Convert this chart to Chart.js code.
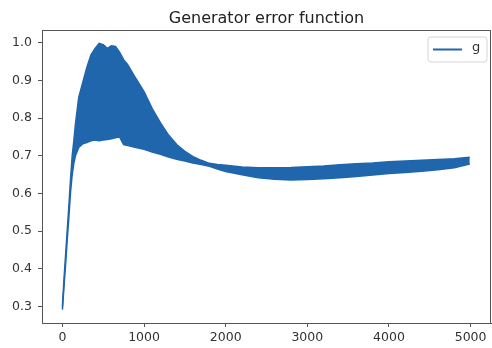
<!DOCTYPE html>
<html>
<head>
<meta charset="utf-8">
<script src="https://cdn.jsdelivr.net/npm/chart.js@4"></script>
<style>
  html, body { margin: 0; padding: 0; background: #fff; }
  #wrap { width: 492px; height: 348px; position: relative; }
</style>
</head>
<body>
<div id="wrap"><canvas id="c" width="492" height="348"></canvas></div>
<script>
// Iteration (x) positions at which the band edges were read
const iterations = [0, 20, 40, 60, 80, 100, 120, 140, 160, 200, 250, 300, 350, 400, 450, 500, 550, 600, 650, 700, 750, 800, 900, 1000, 1100, 1200, 1300, 1400, 1500, 1600, 1700, 1800, 1900, 2000, 2200, 2400, 2600, 2800, 3000, 3200, 3400, 3600, 3800, 4000, 4200, 4400, 4600, 4800, 4990];
// Upper edge of the oscillating "g" series
const gUpper = [0.300, 0.375, 0.440, 0.505, 0.570, 0.640, 0.700, 0.740, 0.785, 0.855, 0.895, 0.935, 0.968, 0.985, 0.998, 0.995, 0.985, 0.992, 0.990, 0.975, 0.955, 0.942, 0.905, 0.870, 0.825, 0.788, 0.755, 0.730, 0.712, 0.698, 0.688, 0.680, 0.677, 0.675, 0.670, 0.668, 0.668, 0.669, 0.671, 0.673, 0.676, 0.679, 0.681, 0.684, 0.686, 0.688, 0.690, 0.692, 0.696];
// Lower edge of the oscillating "g" series
const gLower = [0.292, 0.355, 0.415, 0.480, 0.540, 0.605, 0.650, 0.680, 0.700, 0.722, 0.732, 0.735, 0.740, 0.742, 0.740, 0.742, 0.743, 0.745, 0.748, 0.750, 0.730, 0.727, 0.722, 0.717, 0.710, 0.704, 0.697, 0.691, 0.686, 0.681, 0.677, 0.672, 0.665, 0.658, 0.650, 0.642, 0.638, 0.636, 0.637, 0.639, 0.642, 0.645, 0.649, 0.653, 0.656, 0.659, 0.663, 0.668, 0.678];
const xTicks = [0, 1000, 2000, 3000, 4000, 5000];
const yTicks = [0.3, 0.4, 0.5, 0.6, 0.7, 0.8, 0.9, 1.0];
const seriesLabel = 'g';
const chartTitle = 'Generator error function';

const BLUE = '#1f66ad';
const AXIS = '#555555';
const TEXT = '#333333';
const FONT = "'DejaVu Sans', sans-serif";

const upperPts = iterations.map((x, i) => ({ x: x, y: gUpper[i] }));
const lowerPts = iterations.map((x, i) => ({ x: x, y: gLower[i] }));

const framePlugin = {
  id: 'frame',
  afterDraw(chart) {
    const { ctx, chartArea: a } = chart;
    ctx.save();
    ctx.strokeStyle = AXIS;
    ctx.lineWidth = 1;
    ctx.strokeRect(Math.round(a.left) + 0.5, Math.round(a.top) + 0.5,
                   Math.round(a.right - a.left) - 1, Math.round(a.bottom - a.top));
    // title
    ctx.fillStyle = '#222';
    ctx.font = '16px ' + FONT;
    ctx.textAlign = 'center';
    ctx.textBaseline = 'alphabetic';
    ctx.fillText(chartTitle, (a.left + a.right) / 2, 22.5);
    // legend box
    const bx = 428, by = 37, bw = 59, bh = 25, r = 3;
    ctx.beginPath();
    ctx.moveTo(bx + r, by);
    ctx.lineTo(bx + bw - r, by);
    ctx.quadraticCurveTo(bx + bw, by, bx + bw, by + r);
    ctx.lineTo(bx + bw, by + bh - r);
    ctx.quadraticCurveTo(bx + bw, by + bh, bx + bw - r, by + bh);
    ctx.lineTo(bx + r, by + bh);
    ctx.quadraticCurveTo(bx, by + bh, bx, by + bh - r);
    ctx.lineTo(bx, by + r);
    ctx.quadraticCurveTo(bx, by, bx + r, by);
    ctx.closePath();
    ctx.fillStyle = 'rgba(255,255,255,0.8)';
    ctx.fill();
    ctx.strokeStyle = '#d5d5d5';
    ctx.stroke();
    ctx.strokeStyle = chart.data.datasets[0].borderColor;
    ctx.lineWidth = 2;
    ctx.beginPath();
    ctx.moveTo(433, 49.5);
    ctx.lineTo(462, 49.5);
    ctx.stroke();
    ctx.fillStyle = TEXT;
    ctx.font = '13px ' + FONT;
    ctx.textAlign = 'left';
    ctx.textBaseline = 'middle';
    ctx.fillText(chart.data.datasets[0].label, 472, 48);
    ctx.restore();
  }
};

new Chart(document.getElementById('c'), {
  type: 'line',
  data: {
    datasets: [
      { label: seriesLabel, data: upperPts, borderColor: BLUE, backgroundColor: BLUE,
        borderWidth: 1.5, pointRadius: 0, fill: '+1', tension: 0 },
      { label: seriesLabel + ' (lower)', data: lowerPts, borderColor: BLUE, backgroundColor: BLUE,
        borderWidth: 1.5, pointRadius: 0, fill: false, tension: 0 }
    ]
  },
  plugins: [framePlugin],
  options: {
    responsive: false,
    animation: false,
    events: [],
    layout: { padding: { left: 0, right: 1, top: 30, bottom: 0 } },
    plugins: { legend: { display: false }, title: { display: false }, tooltip: { enabled: false } },
    scales: {
      x: {
        type: 'linear', min: -250, max: 5250,
        afterBuildTicks(s) { s.ticks = xTicks.map(v => ({ value: v })); },
        afterFit(s) { s.height = 25; },
        grid: { display: true, drawOnChartArea: false, drawTicks: true, tickLength: 4, color: AXIS },
        border: { display: true, color: AXIS },
        ticks: { color: TEXT, font: { family: FONT, size: 12.5 }, padding: 3, maxRotation: 0,
                 callback: v => String(v) }
      },
      y: {
        type: 'linear', min: 0.2565, max: 1.0337,
        afterBuildTicks(s) { s.ticks = yTicks.map(v => ({ value: v })); },
        afterFit(s) { s.width = 42; },
        grid: { display: true, drawOnChartArea: false, drawTicks: true, tickLength: 4, color: AXIS },
        border: { display: true, color: AXIS },
        ticks: { color: TEXT, font: { family: FONT, size: 12.5 }, padding: 6,
                 callback: v => v.toFixed(1) }
      }
    }
  }
});
</script>
</body>
</html>
